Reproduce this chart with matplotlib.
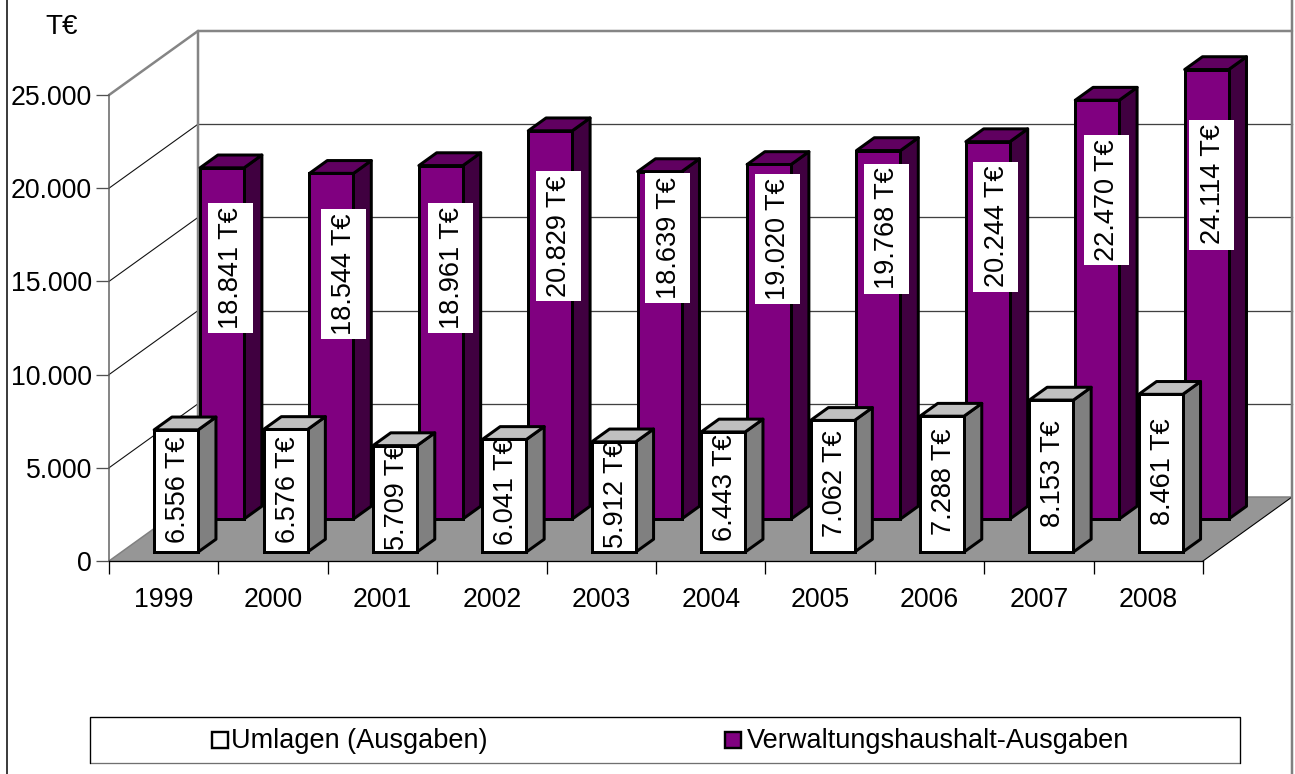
from matplotlib import pyplot as plt
from matplotlib.lines import Line2D
from matplotlib.patches import Polygon, Rectangle
from matplotlib.ticker import FuncFormatter, MultipleLocator, FixedLocator, FixedFormatter
from matplotlib.transforms import Affine2D

years = ['1999', '2000', '2001', '2002', '2003', '2004', '2005', '2006', '2007', '2008']
umlagen = [6556, 6576, 5709, 6041, 5912, 6443, 7062, 7288, 8153, 8461]
verwaltung = [18841, 18544, 18961, 20829, 18639, 19020, 19768, 20244, 22470, 24114]

# label placement, pixels from the top centre of each bar
umlagen_dx = [2, 2, 2, 2, 2, 2, 2, 2, 2, 2]
umlagen_dy = [-60, -60, -51, -52, -53, -56, -63, -66, -74, -77]
verwaltung_dx = [8, 12, 10, 8, 8, 8, 8, 8, 9, 5]
verwaltung_dy = [-100, -101, -102, -105, -66, -75, -78, -85, -100, -115]

W, H = 1295, 774
plt.rcParams['font.family'] = ['Liberation Sans', 'DejaVu Sans']
FONT = 19.5
TICK_FONT = 19.2
LABEL_FONT = 19.5
PX = 0.72

fig = plt.figure(figsize=(W / 100, H / 100), dpi=100)
ax = fig.add_axes([109 / W, 1 - 561 / H, 1094 / W, 466 / H])
ax.set_xlim(0, 10)
ax.set_ylim(0, 25000)
ax.patch.set_visible(False)

# depth of the 3d box in data units (89px across, 64px up)
depth_x = 89 / 109.4
depth_v = 64 / 466 * 25000
bar_width = 44 / 109.4
bar_depth = 0.2


def walls():
    back_x = [depth_x, 10 + depth_x]
    floor = [(0, 0), (10, 0), (10 + depth_x, depth_v), (depth_x, depth_v)]
    ax.add_patch(Polygon(floor, closed=True, fc='#969696', ec='none', clip_on=False, zorder=1))
    for v in range(5000, 25000, 5000):
        ax.plot(back_x, [v + depth_v] * 2, color='#404040', lw=1.3 * PX, clip_on=False, zorder=1)
        ax.plot([0, depth_x], [v, v + depth_v], color='#101010', lw=1.1 * PX, clip_on=False, zorder=1)
    ax.plot(back_x, [depth_v] * 2, color='#808080', lw=1.5 * PX, clip_on=False, zorder=1)
    grey = dict(color='#858585', lw=2.5 * PX, clip_on=False, zorder=1.5, solid_capstyle='round')
    ax.plot(back_x, [25000 + depth_v] * 2, **grey)
    ax.plot([depth_x, depth_x], [depth_v, 25000 + depth_v], **grey)
    ax.plot([0, depth_x], [25000, 25000 + depth_v], **grey)
    ax.plot([0, depth_x], [0, depth_v], color='#808080', lw=1.5 * PX, clip_on=False, zorder=1.5)
    ax.plot([10, 10 + depth_x], [0, depth_v], color='black', lw=1.1 * PX, clip_on=False, zorder=1.5)


def bars(values, depth, face, side, top, zorder):
    lw = 3 * PX
    dx = bar_depth * depth_x
    dv = bar_depth * depth_v
    base = depth * depth_v
    for i, val in enumerate(values):
        x0 = i + 0.5 + depth * depth_x - bar_width / 2
        x1 = x0 + bar_width
        y1 = base + val
        ax.add_patch(Polygon([(x1, base), (x1 + dx, base + dv), (x1 + dx, y1 + dv), (x1, y1)], closed=True,
                             fc=side, ec='black', lw=lw, joinstyle='round', clip_on=False, zorder=zorder))
        ax.add_patch(Polygon([(x0, y1), (x1, y1), (x1 + dx, y1 + dv), (x0 + dx, y1 + dv)], closed=True,
                             fc=top, ec='black', lw=lw, joinstyle='round', clip_on=False, zorder=zorder))
        ax.bar(x0 + bar_width / 2, val, bar_width, bottom=base, color=face, edgecolor='black', linewidth=lw,
               clip_on=False, zorder=zorder)


def labels(values, depth, xoff, yoff, boxed):
    for i, val in enumerate(values):
        x = i + 0.5 + depth * depth_x
        y = depth * depth_v + val
        txt = f'{val:,}'.replace(',', '.') + ' T€'
        shift = 0
        if boxed:
            # white box is wider than the text, so it can't be a plain bbox
            shift = 1
            px, py = ax.transData.transform((x, y))
            box_tr = Affine2D().translate(px + xoff[i], py + yoff[i])
            ax.add_patch(Rectangle((-22.5, -65), 45, 130, fc='white', ec='none', transform=box_tr, clip_on=False,
                                   zorder=9))
        ax.annotate(txt, xy=(x, y), xytext=(xoff[i] + shift, yoff[i]), textcoords='offset pixels', rotation=90,
                    ha='center', va='center', fontsize=LABEL_FONT, color='black', annotation_clip=False,
                    zorder=10)


walls()
bars(verwaltung, 0.656, '#800080', '#400040', '#600060', 3)
bars(umlagen, 0.14, 'white', '#808080', '#C0C0C0', 5)
labels(verwaltung, 0.656, verwaltung_dx, verwaltung_dy, True)
labels(umlagen, 0.14, umlagen_dx, umlagen_dy, False)

for name in ['top', 'right']:
    ax.spines[name].set_visible(False)
ax.spines['left'].set_color('#606060')
ax.spines['left'].set_linewidth(1.5 * PX)
ax.spines['bottom'].set_color('black')
ax.spines['bottom'].set_linewidth(1.3 * PX)
ax.spines['left'].set_zorder(2)
ax.spines['bottom'].set_zorder(2)

ax.yaxis.set_major_locator(MultipleLocator(5000))
ax.yaxis.set_major_formatter(FuncFormatter(lambda v, p: f'{int(v):,}'.replace(',', '.')))
ax.tick_params(axis='y', length=13 * PX, width=1.3 * PX, color='#505050', labelsize=TICK_FONT, pad=3)
ax.xaxis.set_major_locator(MultipleLocator(1))
ax.xaxis.set_major_formatter(FuncFormatter(lambda v, p: ''))
ax.xaxis.set_minor_locator(FixedLocator([i + 0.5 for i in range(10)]))
ax.xaxis.set_minor_formatter(FixedFormatter(years))
ax.tick_params(axis='x', which='major', length=13 * PX, width=1.3 * PX, color='black')
ax.tick_params(axis='x', which='minor', length=0, labelsize=TICK_FONT, pad=19)
for pos in [0, -1]:
    ax.xaxis.get_major_ticks()[pos].tick1line.set_color('#808080')


# figure level pieces, in pixels from the top left of the picture
def fx(px):
    return px / W


def fy(py):
    return 1 - py / H


fig.text(fx(62), fy(27), 'T€', ha='center', va='center', fontsize=20, color='black')
fig.add_artist(Line2D([fx(6.5)] * 2, [0, 1], color='black', lw=1.5 * PX))
fig.add_artist(Line2D([fx(1291.5)] * 2, [0, 1], color='#808080', lw=2.5 * PX, zorder=1))

# legend box
fig.add_artist(Rectangle((fx(90), fy(763)), 1150 / W, 46 / H, fc='white', ec='#707070', lw=1.3 * PX,
                         transform=fig.transFigure))
fig.add_artist(Line2D([fx(90), fx(90), fx(1240), fx(1240)], [fy(763), fy(717), fy(717), fy(763)], color='black',
                      lw=1.2 * PX))
fig.add_artist(Rectangle((fx(212), fy(748)), 16 / W, 16 / H, fc='white', ec='black', lw=2.4 * PX,
                         transform=fig.transFigure))
fig.text(fx(231), fy(741), 'Umlagen (Ausgaben)', ha='left', va='center', fontsize=FONT, color='black')
fig.add_artist(Rectangle((fx(725), fy(748)), 16 / W, 16 / H, fc='#800080', ec='black', lw=2.4 * PX,
                         transform=fig.transFigure))
fig.text(fx(747), fy(741), 'Verwaltungshaushalt-Ausgaben', ha='left', va='center', fontsize=FONT, color='black')

fig.savefig('out.png', dpi=100)
